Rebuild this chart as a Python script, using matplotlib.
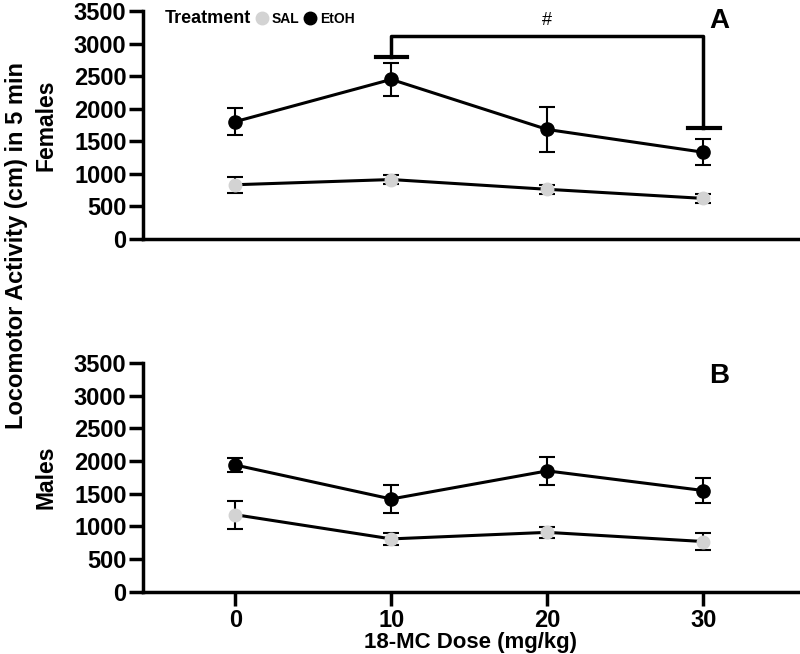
import matplotlib.pyplot as plt
from matplotlib.lines import Line2D

plt.rcParams['font.family'] = ['Liberation Sans', 'DejaVu Sans']
plt.rcParams['font.weight'] = 'bold'
plt.rcParams['axes.labelweight'] = 'bold'

# data
doses = [0, 10, 20, 30]
fem_etoh = [1800, 2450, 1680, 1330]
fem_etoh_err = [210, 250, 340, 200]
fem_sal = [830, 910, 760, 620]
fem_sal_err = [125, 75, 70, 70]
male_etoh = [1940, 1420, 1850, 1550]
male_etoh_err = [110, 210, 210, 195]
male_sal = [1180, 810, 910, 770]
male_sal_err = [215, 90, 85, 130]
yticks = [0, 500, 1000, 1500, 2000, 2500, 3000, 3500]

fig = plt.figure(figsize=(8, 6.54), dpi=100)
ax1 = fig.add_axes([0.179, 0.635, 0.819, 0.348])
ax2 = fig.add_axes([0.179, 0.095, 0.819, 0.350])

def style(ax, show_x):
    ax.set_xlim(-5.9, 36.1)
    ax.set_ylim(0, 3500)
    ax.set_yticks(yticks)
    for s in ['top', 'right']:
        ax.spines[s].set_visible(False)
    for s in ['left', 'bottom']:
        ax.spines[s].set_linewidth(2.5)
    ax.tick_params(axis='y', width=2.5, length=10, pad=2, labelsize=17)
    if show_x:
        ax.set_xticks(doses)
        ax.tick_params(axis='x', width=2.5, length=10, pad=2, labelsize=17)
    else:
        ax.set_xticks([])

def draw(ax, etoh, etoh_err, sal, sal_err):
    ax.errorbar(doses, sal, yerr=sal_err, color='black', lw=2.2, elinewidth=1.5,
                capsize=5.5, capthick=1.5, marker='o', ms=9, mfc='#d3d3d3', mec='#d3d3d3', zorder=3)
    ax.errorbar(doses, etoh, yerr=etoh_err, color='black', lw=2.2, elinewidth=1.5,
                capsize=5.5, capthick=1.5, marker='o', ms=9.5, mfc='black', mec='black', zorder=3)

style(ax1, False)
style(ax2, True)
draw(ax1, fem_etoh, fem_etoh_err, fem_sal, fem_sal_err)
draw(ax2, male_etoh, male_etoh_err, male_sal, male_sal_err)

# significance bracket
ax1.plot([10, 10, 30, 30], [2800, 3110, 3110, 1700], color='black', lw=2.5, clip_on=False)
ax1.plot([9.0, 11.0], [2800, 2800], color='black', lw=3, clip_on=False)
ax1.plot([29.0, 31.1], [1700, 1700], color='black', lw=3, clip_on=False)
ax1.text(20, 3230, '#', ha='center', va='bottom', fontsize=13, fontweight='normal')

ax1.text(31, 3350, 'A', ha='center', va='center', fontsize=20)
ax2.text(31, 3300, 'B', ha='center', va='center', fontsize=20)

ax1.set_ylabel('Females', fontsize=16.5)
ax2.set_ylabel('Males', fontsize=16.5)
ax1.yaxis.set_label_coords(-0.131, 0.5)
ax2.yaxis.set_label_coords(-0.131, 0.5)
ax2.set_xlabel('18-MC Dose (mg/kg)', fontsize=16, labelpad=0)
fig.text(0.021, 0.625, 'Locomotor Activity (cm) in 5 min', rotation=90,
         ha='center', va='center', fontsize=17)

# legend
handles = [Line2D([], [], linestyle='none'),
           Line2D([], [], linestyle='none', marker='o', ms=9, mfc='#d3d3d3', mec='#d3d3d3'),
           Line2D([], [], linestyle='none', marker='o', ms=9, mfc='black', mec='black')]
leg = ax1.legend(handles, ['Treatment', 'SAL', 'EtOH'], ncols=3, frameon=False,
                 loc='upper left', bbox_to_anchor=(-0.01, 1.06), handlelength=0.8,
                 handletextpad=0.3, columnspacing=0.4, fontsize=10)
texts = leg.get_texts()
texts[0].set_fontsize(13)

fig.savefig('out.png', dpi=100)
